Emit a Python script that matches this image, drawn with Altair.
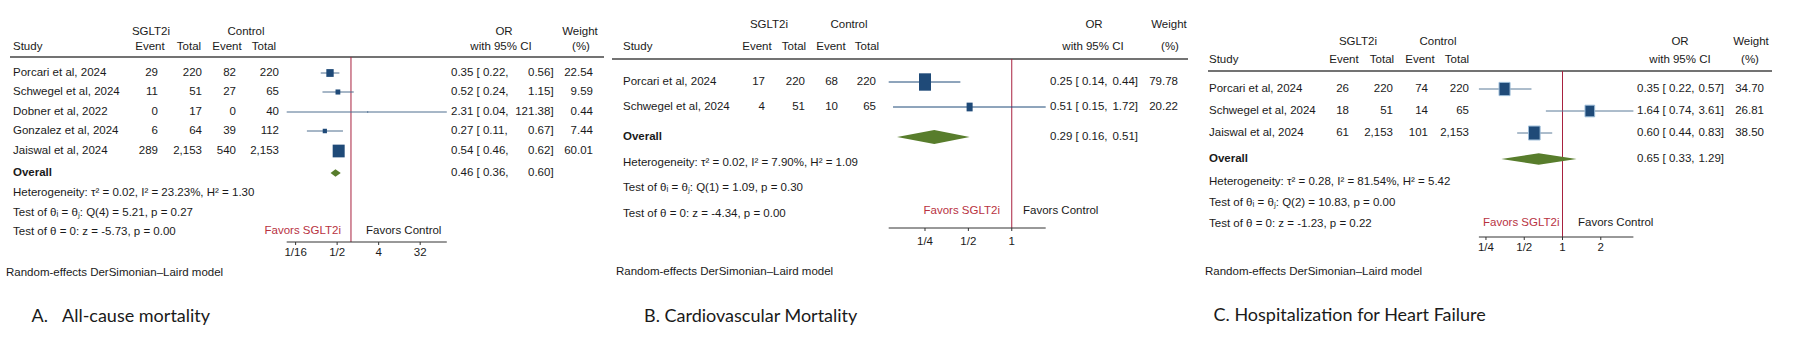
import altair as alt
import pandas as pd

# ---------------- data ----------------
# Panel A: All-cause mortality
studies_A = ["Porcari et al, 2024", "Schwegel et al, 2024", "Dobner et al, 2022",
             "Gonzalez et al, 2024", "Jaiswal et al, 2024"]
sglt_event_A = [29, 11, 0, 6, 289]
sglt_total_A = [220, 51, 17, 64, 2153]
ctrl_event_A = [82, 27, 0, 39, 540]
ctrl_total_A = [220, 65, 40, 112, 2153]
or_A = [0.35, 0.52, 2.31, 0.27, 0.54]
lo_A = [0.22, 0.24, 0.04, 0.11, 0.46]
hi_A = [0.56, 1.15, 121.38, 0.67, 0.62]
weight_A = [22.54, 9.59, 0.44, 7.44, 60.01]
overall_A = [0.46, 0.36, 0.60]
stats_A = ["Heterogeneity: τ² = 0.02, I² = 23.23%, H² = 1.30",
           "Test of θᵢ = θⱼ: Q(4) = 5.21, p = 0.27",
           "Test of θ = 0: z = -5.73, p = 0.00"]
ticks_A = [1 / 16, 1 / 2, 4, 32]
tick_labels_A = ["1/16", "1/2", "4", "32"]
caption_A = ["A.", "All-cause mortality"]

# Panel B: Cardiovascular mortality
studies_B = ["Porcari et al, 2024", "Schwegel et al, 2024"]
sglt_event_B = [17, 4]
sglt_total_B = [220, 51]
ctrl_event_B = [68, 10]
ctrl_total_B = [220, 65]
or_B = [0.25, 0.51]
lo_B = [0.14, 0.15]
hi_B = [0.44, 1.72]
weight_B = [79.78, 20.22]
overall_B = [0.29, 0.16, 0.51]
stats_B = ["Heterogeneity: τ² = 0.02, I² = 7.90%, H² = 1.09",
           "Test of θᵢ = θⱼ: Q(1) = 1.09, p = 0.30",
           "Test of θ = 0: z = -4.34, p = 0.00"]
ticks_B = [1 / 4, 1 / 2, 1]
tick_labels_B = ["1/4", "1/2", "1"]
caption_B = ["B. Cardiovascular Mortality"]

# Panel C: Hospitalization for heart failure
studies_C = ["Porcari et al, 2024", "Schwegel et al, 2024", "Jaiswal et al, 2024"]
sglt_event_C = [26, 18, 61]
sglt_total_C = [220, 51, 2153]
ctrl_event_C = [74, 14, 101]
ctrl_total_C = [220, 65, 2153]
or_C = [0.35, 1.64, 0.60]
lo_C = [0.22, 0.74, 0.44]
hi_C = [0.57, 3.61, 0.83]
weight_C = [34.70, 26.81, 38.50]
overall_C = [0.65, 0.33, 1.29]
stats_C = ["Heterogeneity: τ² = 0.28, I² = 81.54%, H² = 5.42",
           "Test of θᵢ = θⱼ: Q(2) = 10.83, p = 0.00",
           "Test of θ = 0: z = -1.23, p = 0.22"]
ticks_C = [1 / 4, 1 / 2, 1, 2]
tick_labels_C = ["1/4", "1/2", "1", "2"]
caption_C = ["C. Hospitalization for Heart Failure"]

header_top = ["SGLT2i", "Control", "OR", "Weight"]
header_bottom = ["Event", "Total", "Event", "Total", "with 95% CI", "(%)"]
study_header = "Study"
favors = ["Favors SGLT2i", "Favors Control"]
model_note = "Random-effects DerSimonian–Laird model"
overall_label = "Overall"

# ---------------- styles / layout ----------------
FONT = "Liberation Sans"
FS = 11.5
CAP_FONT = "Lato"
CAP_FS = 18
TXT = "#1a1a1a"
RED_LINE = "#a8213f"
RED_TXT = "#b8323f"
NAVY = "#1f4a78"
GREEN = "#587d2c"

LAYOUT = {
    "A": dict(study_x=13, top_y=32, bot_y=47, line_y=57, line_x=(10, 604),
              top_x=[151, 246, 504, 580], bot_x=[150, 189, 227, 264, 501, 581],
              col_right=[158, 202, 236, 279], rows_y=[73, 92, 112, 131, 151],
              overall_y=173, stats_y=[193, 213, 232], favors_y=231,
              favors_x=(341, 366), axis_y=242, tick_y=253, note_x=6, note_y=273,
              cap_x=[31.6, 62], cap_y=317, ci_left=451, ci_right=553.6, w_right=593,
              xrange=[286.7, 446.8], size_max=240, aspect=1.06, diamond_half=3.7,
              ci_color="#4f6f8f", sq_stroke=None),
    "B": dict(study_x=623, top_y=25, bot_y=47, line_y=59, line_x=(612, 1188),
              top_x=[769, 849, 1094, 1169], bot_x=[757, 794, 831, 867, 1093, 1170],
              col_right=[765, 805, 838, 876], rows_y=[82, 107],
              overall_y=137, stats_y=[163, 188, 214], favors_y=211,
              favors_x=(1000, 1023), axis_y=228, tick_y=242, note_x=616, note_y=272,
              cap_x=[644], cap_y=317, ci_left=1050, ci_right=1138, w_right=1178,
              xrange=[888.7, 1045.7], size_max=180, aspect=1.45, diamond_half=7,
              ci_color="#1f4a78", sq_stroke=None),
    "C": dict(study_x=1209, top_y=42, bot_y=60, line_y=71, line_x=(1208, 1772),
              top_x=[1358, 1438, 1680, 1751], bot_x=[1344, 1382, 1420, 1457, 1680, 1750],
              col_right=[1349, 1393, 1428, 1469], rows_y=[89, 111, 133],
              overall_y=159, stats_y=[182, 203, 224], favors_y=223,
              favors_x=(1559.5, 1578), axis_y=237, tick_y=248, note_x=1205, note_y=272,
              cap_x=[1213.5], cap_y=316, ci_left=1637, ci_right=1724, w_right=1764,
              xrange=[1478.9, 1633.4], size_max=350, aspect=1.2, diamond_half=5.8,
              ci_color="#5a7a98", sq_stroke="#9cbcd8"),
}

PANELS = {
    "A": dict(studies=studies_A, se=sglt_event_A, st=sglt_total_A, ce=ctrl_event_A,
              ct=ctrl_total_A, ors=or_A, los=lo_A, his=hi_A, ws=weight_A,
              overall=overall_A, stats=stats_A, ticks=ticks_A, tlabels=tick_labels_A,
              caption=caption_A),
    "B": dict(studies=studies_B, se=sglt_event_B, st=sglt_total_B, ce=ctrl_event_B,
              ct=ctrl_total_B, ors=or_B, los=lo_B, his=hi_B, ws=weight_B,
              overall=overall_B, stats=stats_B, ticks=ticks_B, tlabels=tick_labels_B,
              caption=caption_B),
    "C": dict(studies=studies_C, se=sglt_event_C, st=sglt_total_C, ce=ctrl_event_C,
              ct=ctrl_total_C, ors=or_C, los=lo_C, his=hi_C, ws=weight_C,
              overall=overall_C, stats=stats_C, ticks=ticks_C, tlabels=tick_labels_C,
              caption=caption_C),
}

texts = []


def T(x, y, text, align="left", color=TXT, bold=False, font=FONT, size=FS):
    texts.append(dict(x=x, y=y, text=text, align=align, color=color,
                      bold=bold, font=font, size=size))


layers = []
NO_AX = dict(axis=None)

for key in ["A", "B", "C"]:
    L = LAYOUT[key]
    D = PANELS[key]

    # ---- headers ----
    T(L["study_x"], L["bot_y"], study_header)
    for x, t in zip(L["top_x"], header_top):
        T(x, L["top_y"], t, align="center")
    for x, t in zip(L["bot_x"], header_bottom):
        T(x, L["bot_y"], t, align="center")

    # ---- study rows ----
    for i, s in enumerate(D["studies"]):
        y = L["rows_y"][i]
        T(L["study_x"], y, s)
        for cx, v in zip(L["col_right"], [D["se"][i], D["st"][i], D["ce"][i], D["ct"][i]]):
            T(cx, y, f"{v:,}", align="right")
        T(L["ci_left"], y, f"{D['ors'][i]:.2f} [ {D['los'][i]:.2f},")
        T(L["ci_right"], y, f"{D['his'][i]:.2f}]", align="right")
        T(L["w_right"], y, f"{D['ws'][i]:.2f}", align="right")

    # ---- overall ----
    est, olo, ohi = D["overall"]
    T(L["study_x"], L["overall_y"], overall_label, bold=True)
    T(L["ci_left"], L["overall_y"], f"{est:.2f} [ {olo:.2f},")
    T(L["ci_right"], L["overall_y"], f"{ohi:.2f}]", align="right")

    for y, s in zip(L["stats_y"], D["stats"]):
        T(L["study_x"], y, s)

    T(L["favors_x"][0], L["favors_y"], favors[0], align="right", color=RED_TXT)
    T(L["favors_x"][1], L["favors_y"], favors[1])
    T(L["note_x"], L["note_y"], model_note)
    for x, c in zip(L["cap_x"], D["caption"]):
        T(x, L["cap_y"], c, font=CAP_FONT, size=CAP_FS)

    # ---- forest part (through log scale) ----
    dmin = min(D["los"] + [olo])
    dmax = max(D["his"] + [ohi])
    sc = alt.Scale(type="log", base=2, domain=[dmin, dmax], range=L["xrange"], nice=False)

    # header line
    layers.append(alt.Chart(pd.DataFrame({"a": [0]})).mark_rule(
        color="#444444", strokeWidth=1.3).encode(
        x=alt.value(L["line_x"][0]), x2=alt.value(L["line_x"][1]), y=alt.value(L["line_y"])))

    # null line at OR = 1
    layers.append(alt.Chart(pd.DataFrame({"v": [1.0]})).mark_rule(
        color=RED_LINE, strokeWidth=1).encode(
        x=alt.X("v:Q", scale=sc, **NO_AX), y=alt.value(L["line_y"]), y2=alt.value(L["axis_y"])))

    # CI lines
    ci_df = pd.DataFrame({"lo": D["los"], "hi": D["his"], "y": L["rows_y"][:len(D["los"])]})
    layers.append(alt.Chart(ci_df).mark_rule(color=L["ci_color"], strokeWidth=1).encode(
        x=alt.X("lo:Q", scale=sc, **NO_AX), x2="hi:Q",
        y=alt.Y("y:Q", scale=None, **NO_AX)))

    # weighted squares
    a = L["aspect"]
    shape = f"M-1,-{a}H1V{a}H-1Z"
    sq_df = pd.DataFrame({"or": D["ors"], "w": D["ws"], "y": L["rows_y"][:len(D["ors"])]})
    mk = dict(shape=shape, filled=True, color=NAVY, opacity=1)
    if L["sq_stroke"]:
        mk.update(stroke=L["sq_stroke"], strokeWidth=1)
    layers.append(alt.Chart(sq_df).mark_point(**mk).encode(
        x=alt.X("or:Q", scale=sc, **NO_AX),
        y=alt.Y("y:Q", scale=None, **NO_AX),
        size=alt.Size("w:Q", scale=alt.Scale(domain=[0, 100], range=[0, L["size_max"]]),
                      legend=None)))

    # overall diamond
    c = L["overall_y"]
    h = L["diamond_half"]
    dia = pd.DataFrame({"x": [olo, est, ohi], "y": [c, c - h, c], "y2": [c, c + h, c]})
    layers.append(alt.Chart(dia).mark_area(color=GREEN, opacity=1, orient="vertical").encode(
        x=alt.X("x:Q", scale=sc, **NO_AX),
        y=alt.Y("y:Q", scale=None, **NO_AX), y2="y2:Q"))

    # x axis
    layers.append(alt.Chart(pd.DataFrame({"lo": [dmin], "hi": [dmax]})).mark_rule(
        color="#333333", strokeWidth=1).encode(
        x=alt.X("lo:Q", scale=sc, **NO_AX), x2="hi:Q", y=alt.value(L["axis_y"])))
    tk = pd.DataFrame({"t": D["ticks"], "lab": D["tlabels"]})
    layers.append(alt.Chart(tk).mark_rule(color="#333333", strokeWidth=1).encode(
        x=alt.X("t:Q", scale=sc, **NO_AX), y=alt.value(L["axis_y"]),
        y2=alt.value(L["axis_y"] + 3)))
    layers.append(alt.Chart(tk).mark_text(font=FONT, fontSize=FS, color=TXT,
                                          align="center", baseline="middle").encode(
        x=alt.X("t:Q", scale=sc, **NO_AX), y=alt.value(L["tick_y"]), text="lab:N"))

# ---- text layers grouped by style ----
tdf = pd.DataFrame(texts)
for (align, bold, font, size), g in tdf.groupby(["align", "bold", "font", "size"]):
    layers.append(alt.Chart(g.reset_index(drop=True)).mark_text(
        align=align, baseline="middle", font=font, fontSize=float(size),
        fontWeight="bold" if bold else "normal").encode(
        x=alt.X("x:Q", scale=None, **NO_AX),
        y=alt.Y("y:Q", scale=None, **NO_AX),
        text="text:N",
        color=alt.Color("color:N", scale=None, legend=None)))

chart = alt.layer(*layers).resolve_scale(
    x="independent", y="independent", size="independent", color="independent"
).properties(
    width=1806, height=353, padding=0, autosize="none", background="white"
).configure_view(stroke=None)

chart.save("out.html", embed_options={"renderer": "svg", "actions": False})
